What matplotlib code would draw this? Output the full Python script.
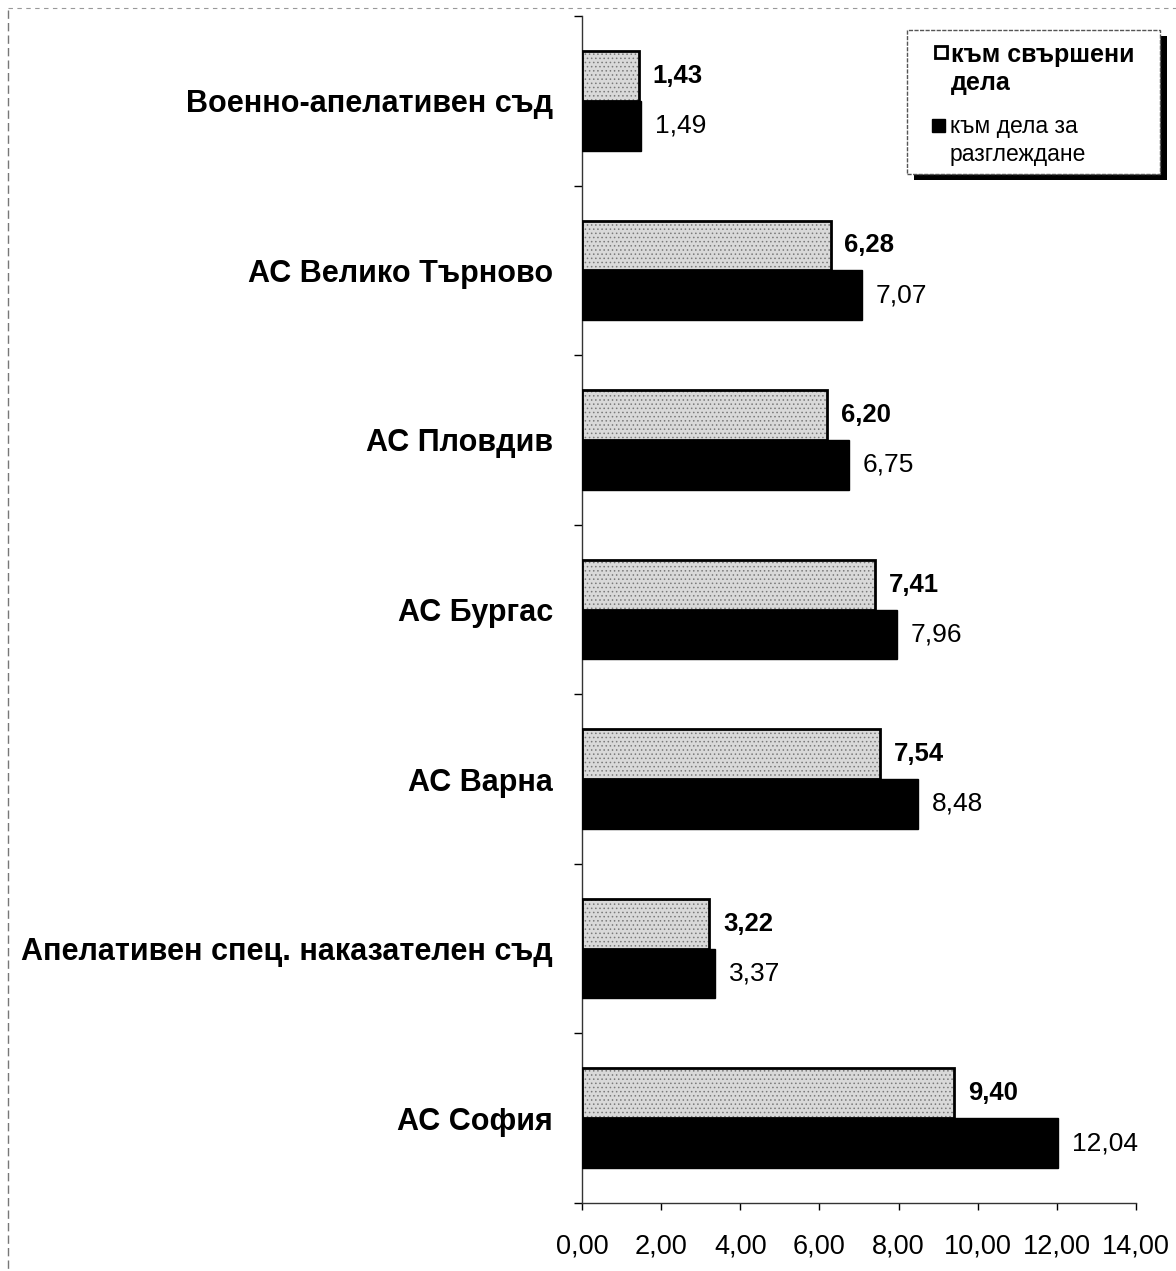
import numpy as np
import matplotlib
matplotlib.use("Agg")
import matplotlib.pyplot as plt
from matplotlib.patches import Rectangle
from matplotlib.lines import Line2D
from matplotlib.ticker import FuncFormatter, FixedLocator

plt.rcParams['font.family'] = ['Liberation Sans', 'DejaVu Sans']
plt.rcParams['hatch.linewidth'] = 0.6

# data
categories = ['Военно-апелативен съд', 'АС Велико Търново', 'АС Пловдив',
              'АС Бургас', 'АС Варна', 'Апелативен спец. наказателен съд',
              'АС София']
done = [1.43, 6.28, 6.20, 7.41, 7.54, 3.22, 9.40]
pending = [1.49, 7.07, 6.75, 7.96, 8.48, 3.37, 12.04]
xticks = [0, 2, 4, 6, 8, 10, 12, 14]
legend_labels = ['към свършени\nдела', 'към дела за\nразглеждане']

W, H = 1176, 1271
fig = plt.figure(figsize=(W / 100, H / 100), dpi=100)
ax = fig.add_axes([582 / W, 1 - 1203 / H, (1136 - 582) / W, (1203 - 16) / H])

def fx(px):
    return px / W

def fy(py):
    return 1 - py / H

y = np.arange(len(categories))
h = 0.294
off = 0.147

# stippled grey bars: texture first, black outline on top
ax.barh(y - off, done, height=h, color='#d9d9d9', edgecolor='#7a7a7a',
        hatch='....', linewidth=0, zorder=2)
ax.barh(y - off, done, height=h, fill=False, edgecolor='black',
        linewidth=2, zorder=3)
ax.barh(y + off, pending, height=h, color='black', edgecolor='black',
        linewidth=1, zorder=3)

for yi, v in zip(y, done):
    ax.annotate(f'{v:.2f}'.replace('.', ','), (v, yi - off),
                xytext=(10, 0), textcoords='offset points',
                ha='left', va='center', fontsize=18.5, fontweight='bold')
for yi, v in zip(y, pending):
    ax.annotate(f'{v:.2f}'.replace('.', ','), (v, yi + off),
                xytext=(10, 0), textcoords='offset points',
                ha='left', va='center', fontsize=19)

ax.set_xlim(0, 14)
ax.set_ylim(len(categories) - 0.5, -0.5)
ax.set_xticks(xticks)
ax.xaxis.set_major_formatter(FuncFormatter(lambda v, p: f'{v:.2f}'.replace('.', ',')))
ax.set_yticks(y)
ax.set_yticklabels(categories, fontsize=22, fontweight='bold')
ax.yaxis.set_minor_locator(FixedLocator(np.arange(-0.5, len(categories), 1)))
ax.tick_params(axis='y', which='major', length=0, pad=21)
ax.tick_params(axis='y', which='minor', length=6, width=1, direction='out')
ax.tick_params(axis='x', length=5, width=1, direction='out', labelsize=19.5, pad=17)

for s in ['top', 'right']:
    ax.spines[s].set_visible(False)
for s in ['left', 'bottom']:
    ax.spines[s].set_linewidth(1)
    ax.spines[s].set_color('#333333')

# legend drawn by hand: shadow, box, markers, texts
lx0, ly0, lx1, ly1 = 907, 30, 1160, 174
fig.patches.append(Rectangle((fx(lx0 + 7), fy(ly1 + 6)), fx(lx1 - lx0), (ly1 - ly0) / H,
                             transform=fig.transFigure, facecolor='black',
                             edgecolor='none', zorder=5))
fig.patches.append(Rectangle((fx(lx0), fy(ly1)), fx(lx1 - lx0), (ly1 - ly0) / H,
                             transform=fig.transFigure, facecolor='white',
                             edgecolor='#555555', linewidth=1, linestyle=(0, (3, 1)),
                             zorder=6))
fig.patches.append(Rectangle((fx(935), fy(58)), fx(12), 12 / H,
                             transform=fig.transFigure, facecolor='white',
                             edgecolor='black', linewidth=2, zorder=7))
fig.patches.append(Rectangle((fx(932), fy(132)), fx(13), 13 / H,
                             transform=fig.transFigure, facecolor='black',
                             edgecolor='black', linewidth=1, zorder=7))
fig.text(fx(951), fy(43), legend_labels[0], ha='left', va='top', fontsize=18,
         fontweight='bold', linespacing=1.2, zorder=8)
fig.text(fx(950), fy(115), legend_labels[1], ha='left', va='top', fontsize=16.5,
         linespacing=1.25, zorder=8)

# faint scan frame on the left and top
fig.add_artist(Line2D([fx(8), fx(8)], [fy(10), fy(1271)], color='#777777',
                      linewidth=1, linestyle=(0, (6, 3))))
fig.add_artist(Line2D([fx(8), fx(1176)], [fy(8), fy(8)], color='#999999',
                      linewidth=0.8, linestyle=(0, (4, 4))))

fig.savefig('out.png', dpi=100, facecolor='white')
